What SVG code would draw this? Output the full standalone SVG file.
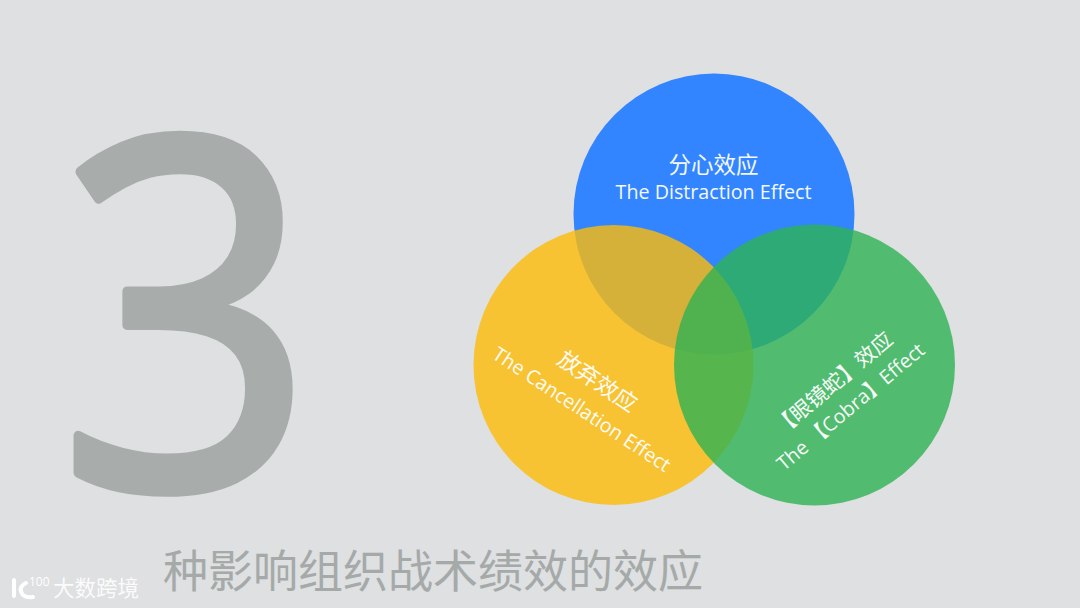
<svg xmlns="http://www.w3.org/2000/svg" width="1080" height="608" viewBox="0 0 1080 608">
<style>
.cn{font-size:22.500px;font-family:"Noto Sans CJK SC",sans-serif;fill:#fff;opacity:.95}
.en{font-size:19.700px;font-family:"Open Sans","Noto Sans CJK SC",sans-serif;fill:#fff;opacity:.95}
</style>
<rect width="1080" height="608" fill="#dee0e1"/>
<text id="big-three" transform="translate(58,487) scale(.925,1)" font-family="Open Sans, sans-serif" font-size="485" fill="#a8adab" stroke="#a8adab" stroke-width="10" stroke-linejoin="round">3</text>
<circle cx="714" cy="214" r="140.500" fill="#3385ff"/>
<circle cx="613.500" cy="365" r="140" fill="#febb08" fill-opacity=".8"/>
<circle cx="814.500" cy="365" r="140.500" fill="#2db354" fill-opacity=".8"/>
<g id="distraction" text-anchor="middle">
<text class="cn" x="713.500" y="173">分心效应</text>
<text class="en" x="713.500" y="199">The Distraction Effect</text>
</g>
<g id="cancellation" text-anchor="middle">
<text class="cn" transform="translate(593,388) rotate(34)">放弃效应</text>
<text class="en" transform="translate(578,415) rotate(33.500)">The Cancellation Effect</text>
</g>
<g id="cobra" text-anchor="middle">
<text class="cn" style="font-size:21px" transform="translate(838,389) rotate(-40)">【眼镜蛇】效应</text>
<text class="en" transform="translate(855,412) rotate(-40)">The  【Cobra】Effect</text>
</g>
<text id="caption" x="163" y="588" font-family="Noto Sans CJK SC, sans-serif" font-size="45" fill="#a5aaa9">种影响组织战术绩效的效应</text>
<g id="watermark">
<path d="M14 580v16M26 583C22 585 20 588 21 591C22 596 27 598 33 597" fill="none" stroke="#fff" stroke-width="4" stroke-linecap="round"/>
<text x="29" y="586" font-family="Open Sans, sans-serif" font-size="12" fill="#fff">100</text>
<text x="53" y="596" font-family="Noto Sans CJK SC, sans-serif" font-size="21.500" fill="#fff" fill-opacity=".9">大数跨境</text>
</g>
</svg>
